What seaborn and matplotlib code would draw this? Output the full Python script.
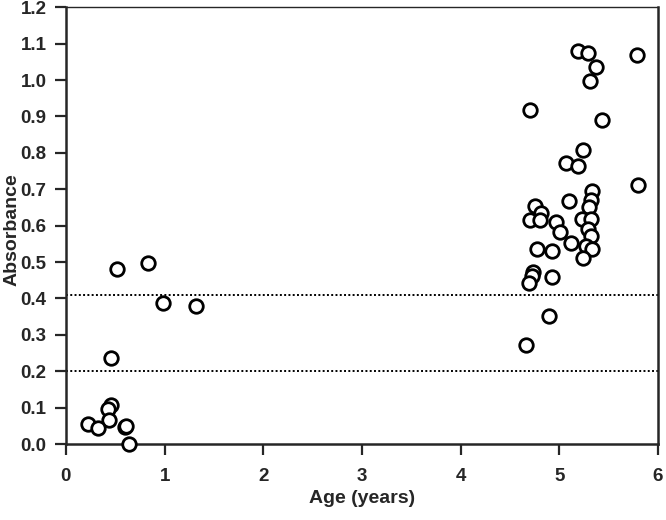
import matplotlib
matplotlib.use("Agg")
import matplotlib.pyplot as plt
import seaborn as sns
import pandas as pd

# --- data ---
age = [5.19, 5.29, 5.37, 5.31, 5.79, 4.70, 5.43, 5.24, 5.07, 5.19,
       5.80, 5.33, 5.32, 5.10, 5.30, 4.75, 4.81, 4.70, 4.80, 4.97,
       5.23, 5.32, 5.01, 5.29, 5.32, 5.12, 4.77, 4.93, 5.27, 5.33,
       5.24, 4.73, 4.72, 4.69, 4.93, 4.90, 4.66,
       0.52, 0.83, 0.98, 1.32, 0.46, 0.46, 0.43, 0.44, 0.22, 0.33,
       0.60, 0.61, 0.64]
absorbance = [1.08, 1.075, 1.036, 0.997, 1.069, 0.918, 0.89, 0.808, 0.772, 0.764,
              0.712, 0.695, 0.67, 0.668, 0.651, 0.654, 0.635, 0.615, 0.615, 0.61,
              0.618, 0.618, 0.582, 0.59, 0.571, 0.552, 0.536, 0.53, 0.544, 0.536,
              0.511, 0.472, 0.461, 0.442, 0.459, 0.352, 0.272,
              0.481, 0.497, 0.387, 0.379, 0.236, 0.107, 0.096, 0.066, 0.055, 0.044,
              0.047, 0.05, 0.0]
cutoffs = [0.41, 0.20]

df = pd.DataFrame({"age": age, "absorbance": absorbance})

sns.set_style("ticks")
plt.rcParams["font.family"] = ["Liberation Sans", "DejaVu Sans"]

fig = plt.figure(figsize=(6.66, 5.2), dpi=100)
ax = fig.add_axes([0.099, 0.146, 0.889, 0.84])

for c in cutoffs:
    ax.axhline(c, color="black", linestyle=(0, (1, 1.2)), linewidth=1.4, zorder=1)

sns.scatterplot(data=df, x="age", y="absorbance", ax=ax, marker="o",
                s=95, facecolor="white", edgecolor="black", linewidth=2.0,
                clip_on=False, zorder=3)

ax.set_xlim(0, 6)
ax.set_ylim(0, 1.2)
ax.set_xticks(range(0, 7))
ax.set_yticks([i / 10 for i in range(13)])
ax.set_yticklabels([f"{i / 10:.1f}" for i in range(13)])
ax.tick_params(direction="out", length=8, width=1.6, labelsize=13.5, pad=6)
ax.tick_params(axis="x", pad=9)
for lab in ax.get_xticklabels() + ax.get_yticklabels():
    lab.set_fontweight("bold")

for side in ["left", "bottom", "right", "top"]:
    ax.spines[side].set_visible(True)
    ax.spines[side].set_linewidth(1.8)
ax.spines["top"].set_linewidth(1.0)

ax.set_xlabel("Age (years)", fontsize=14, fontweight="bold", labelpad=4)
ax.set_ylabel("Absorbance", fontsize=14, fontweight="bold")
ax.yaxis.set_label_coords(-0.076, 0.492)

fig.savefig("out.png", dpi=100)
